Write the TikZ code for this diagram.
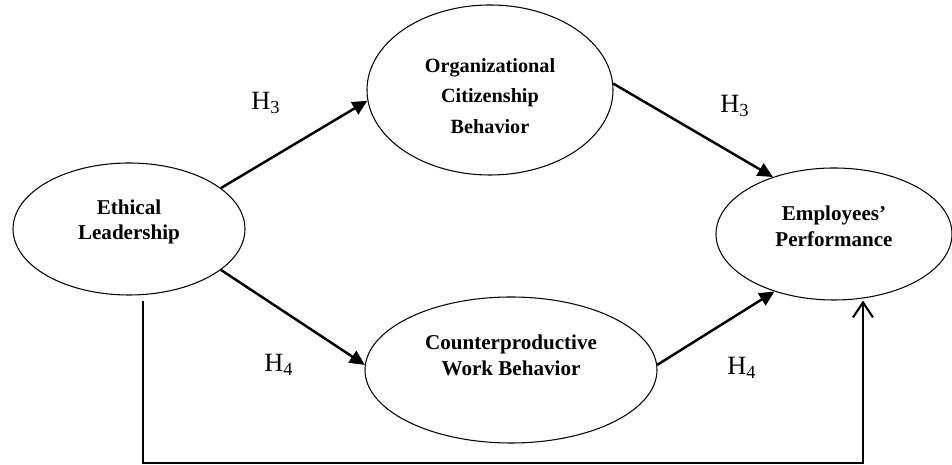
\documentclass[tikz,border=0pt]{standalone}
\usepackage{fontspec}
\setmainfont{Liberation Serif}
\usetikzlibrary{shapes.geometric, arrows.meta}

\tikzset{
  construct/.style={draw, ellipse, line width=0.6pt, inner sep=0pt},
  construct text/.style={font=\bfseries\fontsize{12}{14.5}\selectfont, align=center},
  path arrow/.style={line width=1.4pt, -{Triangle[length=0.3cm,width=0.28cm]}},
  direct arrow/.style={line width=1.2pt, -{Straight Barb[length=0.3cm,width=0.4cm]}},
  hyp/.style={font=\fontsize{15}{17}\selectfont}
}

\begin{document}
\begin{tikzpicture}
    \useasboundingbox (0,0) rectangle (19.04,9.3);

    % Constructs
    \node[construct, minimum width=4.64cm, minimum height=2.64cm] (el) at (2.58,4.72) {};
    \node[construct, minimum width=4.92cm, minimum height=3.4cm] (ocb) at (9.8,7.5) {};
    \node[construct, minimum width=5.84cm, minimum height=2.92cm] (cwb) at (10.22,1.9) {};
    \node[construct, minimum width=4.72cm, minimum height=2.64cm] (ep) at (16.68,4.62) {};

    % Construct names
    \node[construct text] (eltext) at ([yshift=0.14cm]el.center) {Ethical\\Leadership};
    \node[construct text, font=\bfseries\fontsize{11.5}{17.5}\selectfont] (ocbtext) at ([yshift=-0.12cm]ocb.center) {Organizational\\Citizenship\\Behavior};
    \node[construct text] (cwbtext) at ([yshift=0.29cm]cwb.center) {Counterproductive\\Work Behavior};
    \node[construct text] (eptext) at ([yshift=0.15cm]ep.center) {Employees'\\Performance};

    % Paths
    \draw[path arrow] (el.24) -- (ocb.185);
    \draw[path arrow] (ocb.3) -- (ep.137);
    \draw[path arrow] (el.336) -- (cwb.178);
    \draw[path arrow] (cwb.2) -- (ep.224);

    % Direct effect
    \coordinate (elfoot) at ([xshift=0.28cm,yshift=-0.1cm]el.south);
    \coordinate (corner) at (17.26,0.04);
    \draw[direct arrow] (elfoot) |- (corner) -- (corner |- ep.south);

    % Hypotheses
    \node[hyp] (h3a) at (5.32,7.24) {H\textsubscript{3}};
    \node[hyp] (h3b) at (14.7,7.18) {H\textsubscript{3}};
    \node[hyp] (h4a) at (5.58,2.0) {H\textsubscript{4}};
    \node[hyp] (h4b) at (14.84,1.94) {H\textsubscript{4}};
\end{tikzpicture}
\end{document}
